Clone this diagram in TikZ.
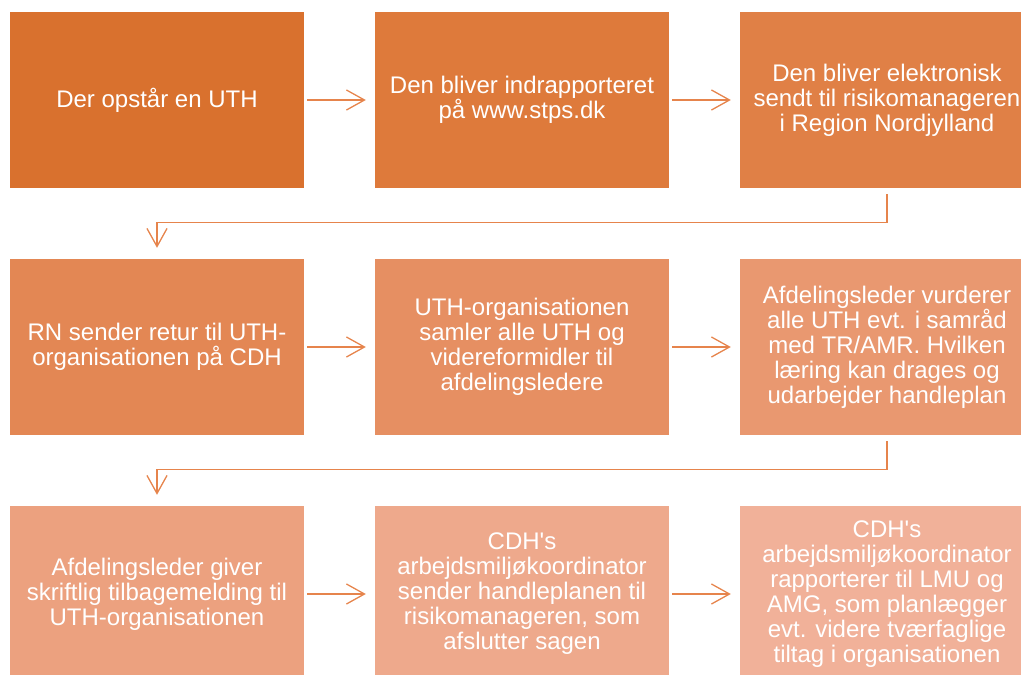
\documentclass[tikz,border=0pt]{standalone}
\usepackage{fontspec}
\setmainfont{Liberation Sans}
\usetikzlibrary{arrows.meta}
\definecolor{c1}{RGB}{217,113,46}
\definecolor{c2}{RGB}{222,122,59}
\definecolor{c3}{RGB}{224,128,70}
\definecolor{c4}{RGB}{227,135,84}
\definecolor{c5}{RGB}{230,143,98}
\definecolor{c6}{RGB}{233,152,112}
\definecolor{c7}{RGB}{236,161,127}
\definecolor{c8}{RGB}{238,169,140}
\definecolor{c9}{RGB}{241,177,153}
\definecolor{arrc}{RGB}{230,132,76}
\begin{document}
\begin{tikzpicture}[x=1pt,y=-1pt,
  box/.style={rectangle, draw=none, minimum width=294pt, minimum height=176pt, inner sep=0pt,
    text=white, align=center, font=\fontsize{24}{25}\selectfont},
  arr/.style={draw=arrc, line width=1.3pt, -{Straight Barb[length=18pt,width=20pt,line width=1.3pt]}}]
\useasboundingbox (0,0) rectangle (1021,675);
\clip (0,0) rectangle (1021,675);
\node[box, fill=c1] (n1) at (157,100) {Der opstår en UTH};
\node[box, fill=c2] (n2) at (522,100) {Den bliver indrapporteret\\på www.stps.dk};
\node[box, fill=c3] (n3) at (887,100) {Den bliver elektronisk\\sendt til risikomanageren\\i Region Nordjylland};
\node[box, fill=c4] (n4) at (157,347) {RN sender retur til UTH-\\organisationen på CDH};
\node[box, fill=c5] (n5) at (522,347) {UTH-organisationen\\samler alle UTH og\\videreformidler til\\afdelingsledere};
\node[box, fill=c6] (n6) at (887,347) {Afdelingsleder vurderer\\alle UTH evt. i samråd\\med TR/AMR. Hvilken\\læring kan drages og\\udarbejder handleplan};
\node[box, fill=c7] (n7) at (157,594) {Afdelingsleder giver\\skriftlig tilbagemelding til\\UTH-organisationen};
\node[box, fill=c8] (n8) at (522,594) {CDH\textquotesingle s\\arbejdsmiljøkoordinator\\sender handleplanen til\\risikomanageren, som\\afslutter sagen};
\node[box, fill=c9] (n9) at (887,594) {CDH\textquotesingle s\\arbejdsmiljøkoordinator\\rapporterer til LMU og\\AMG, som planlægger\\evt. videre tværfaglige\\tiltag i organisationen};
\draw[arr, shorten <=3pt, shorten >=9pt] (n1.east) -- (n2.west);
\draw[arr, shorten <=3pt, shorten >=9pt] (n2.east) -- (n3.west);
\draw[arr, shorten <=3pt, shorten >=9pt] (n4.east) -- (n5.west);
\draw[arr, shorten <=3pt, shorten >=9pt] (n5.east) -- (n6.west);
\draw[arr, shorten <=3pt, shorten >=9pt] (n7.east) -- (n8.west);
\draw[arr, shorten <=3pt, shorten >=9pt] (n8.east) -- (n9.west);
\draw[arr, shorten <=6pt, shorten >=11pt] (n3.south) -- ++(0,34) -| (n4.north);
\draw[arr, shorten <=6pt, shorten >=11pt] (n6.south) -- ++(0,34) -| (n7.north);
\end{tikzpicture}
\end{document}
